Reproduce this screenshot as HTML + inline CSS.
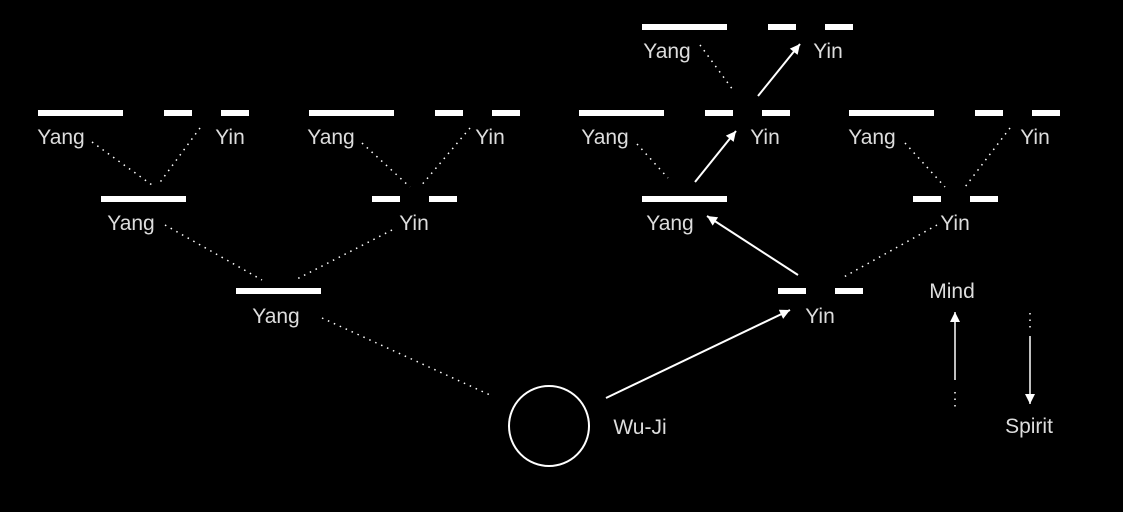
<!DOCTYPE html>
<html><head><style>html,body{margin:0;background:#000;}svg{display:block}</style></head><body>
<svg width="1123" height="512" viewBox="0 0 1123 512" xmlns="http://www.w3.org/2000/svg">
<defs><marker id="a" viewBox="0 0 10 10" refX="10" refY="5" markerWidth="7" markerHeight="7" markerUnits="userSpaceOnUse" orient="auto"><path d="M0,1.5 L10,5 L0,8.5 z" fill="#fff"/></marker>
<marker id="b" viewBox="0 0 10 10" refX="10" refY="5" markerWidth="18" markerHeight="10" markerUnits="userSpaceOnUse" orient="auto"><path d="M0,0 L10,5 L0,10 z" fill="#fff"/></marker></defs>
<g fill="#fff">
<rect x="642" y="24" width="85" height="6"/><rect x="768" y="24" width="28" height="6"/><rect x="825" y="24" width="28" height="6"/>
<rect x="38" y="110" width="85" height="6"/><rect x="164" y="110" width="28" height="6"/><rect x="221" y="110" width="28" height="6"/>
<rect x="309" y="110" width="85" height="6"/><rect x="435" y="110" width="28" height="6"/><rect x="492" y="110" width="28" height="6"/>
<rect x="579" y="110" width="85" height="6"/><rect x="705" y="110" width="28" height="6"/><rect x="762" y="110" width="28" height="6"/>
<rect x="849" y="110" width="85" height="6"/><rect x="975" y="110" width="28" height="6"/><rect x="1032" y="110" width="28" height="6"/>
<rect x="101" y="196" width="85" height="6"/><rect x="372" y="196" width="28" height="6"/><rect x="429" y="196" width="28" height="6"/>
<rect x="642" y="196" width="85" height="6"/><rect x="913" y="196" width="28" height="6"/><rect x="970" y="196" width="28" height="6"/>
<rect x="236" y="288" width="85" height="6"/><rect x="778" y="288" width="28" height="6"/><rect x="835" y="288" width="28" height="6"/>
</g>
<g fill="#ddd" font-family="Liberation Sans, sans-serif" font-size="21" text-anchor="middle">
<text x="667" y="58">Yang</text><text x="828" y="58">Yin</text>
<text x="61" y="144">Yang</text><text x="230" y="144">Yin</text>
<text x="331" y="144">Yang</text><text x="490" y="144">Yin</text>
<text x="605" y="144">Yang</text><text x="765" y="144">Yin</text>
<text x="872" y="144">Yang</text><text x="1035" y="144">Yin</text>
<text x="131" y="230">Yang</text><text x="414" y="230">Yin</text>
<text x="670" y="230">Yang</text><text x="955" y="230">Yin</text>
<text x="276" y="323">Yang</text><text x="820" y="323">Yin</text>
<text x="640" y="434">Wu-Ji</text>
<text x="952" y="298">Mind</text><text x="1029" y="433">Spirit</text>
</g>
<g stroke="#fff" stroke-width="1.5" stroke-dasharray="1.5 5" fill="none">
<line x1="92" y1="142" x2="152" y2="185"/><line x1="200" y1="128" x2="158" y2="185"/>
<line x1="362" y1="143" x2="410" y2="187"/><line x1="470" y1="128" x2="420" y2="187"/>
<line x1="637" y1="144" x2="668" y2="178"/>
<line x1="905" y1="143" x2="945" y2="187"/><line x1="1010" y1="128" x2="965" y2="187"/>
<line x1="700" y1="45" x2="733" y2="90"/>
<line x1="165" y1="225" x2="262" y2="280"/><line x1="392" y1="230" x2="295" y2="280"/>
<line x1="937" y1="225" x2="842" y2="278"/>
<line x1="322" y1="318" x2="490" y2="395"/>
<line x1="955" y1="392" x2="955" y2="410"/><line x1="1030" y1="313" x2="1030" y2="330"/>
</g>
<circle cx="549" cy="426" r="40" stroke="#fff" stroke-width="2" fill="none"/>
<g stroke="#fff" stroke-width="2" fill="none">
<line x1="758" y1="96" x2="800" y2="44" marker-end="url(#b)"/>
<line x1="695" y1="182" x2="736" y2="131" marker-end="url(#b)"/>
<line x1="798" y1="275" x2="707" y2="216" marker-end="url(#b)"/>
<line x1="606" y1="398" x2="790" y2="310" marker-end="url(#b)"/>
<line x1="955" y1="380" x2="955" y2="312" stroke-width="1.5" marker-end="url(#b)"/>
<line x1="1030" y1="336" x2="1030" y2="404" stroke-width="1.5" marker-end="url(#b)"/>
</g>
</svg>
</body></html>
